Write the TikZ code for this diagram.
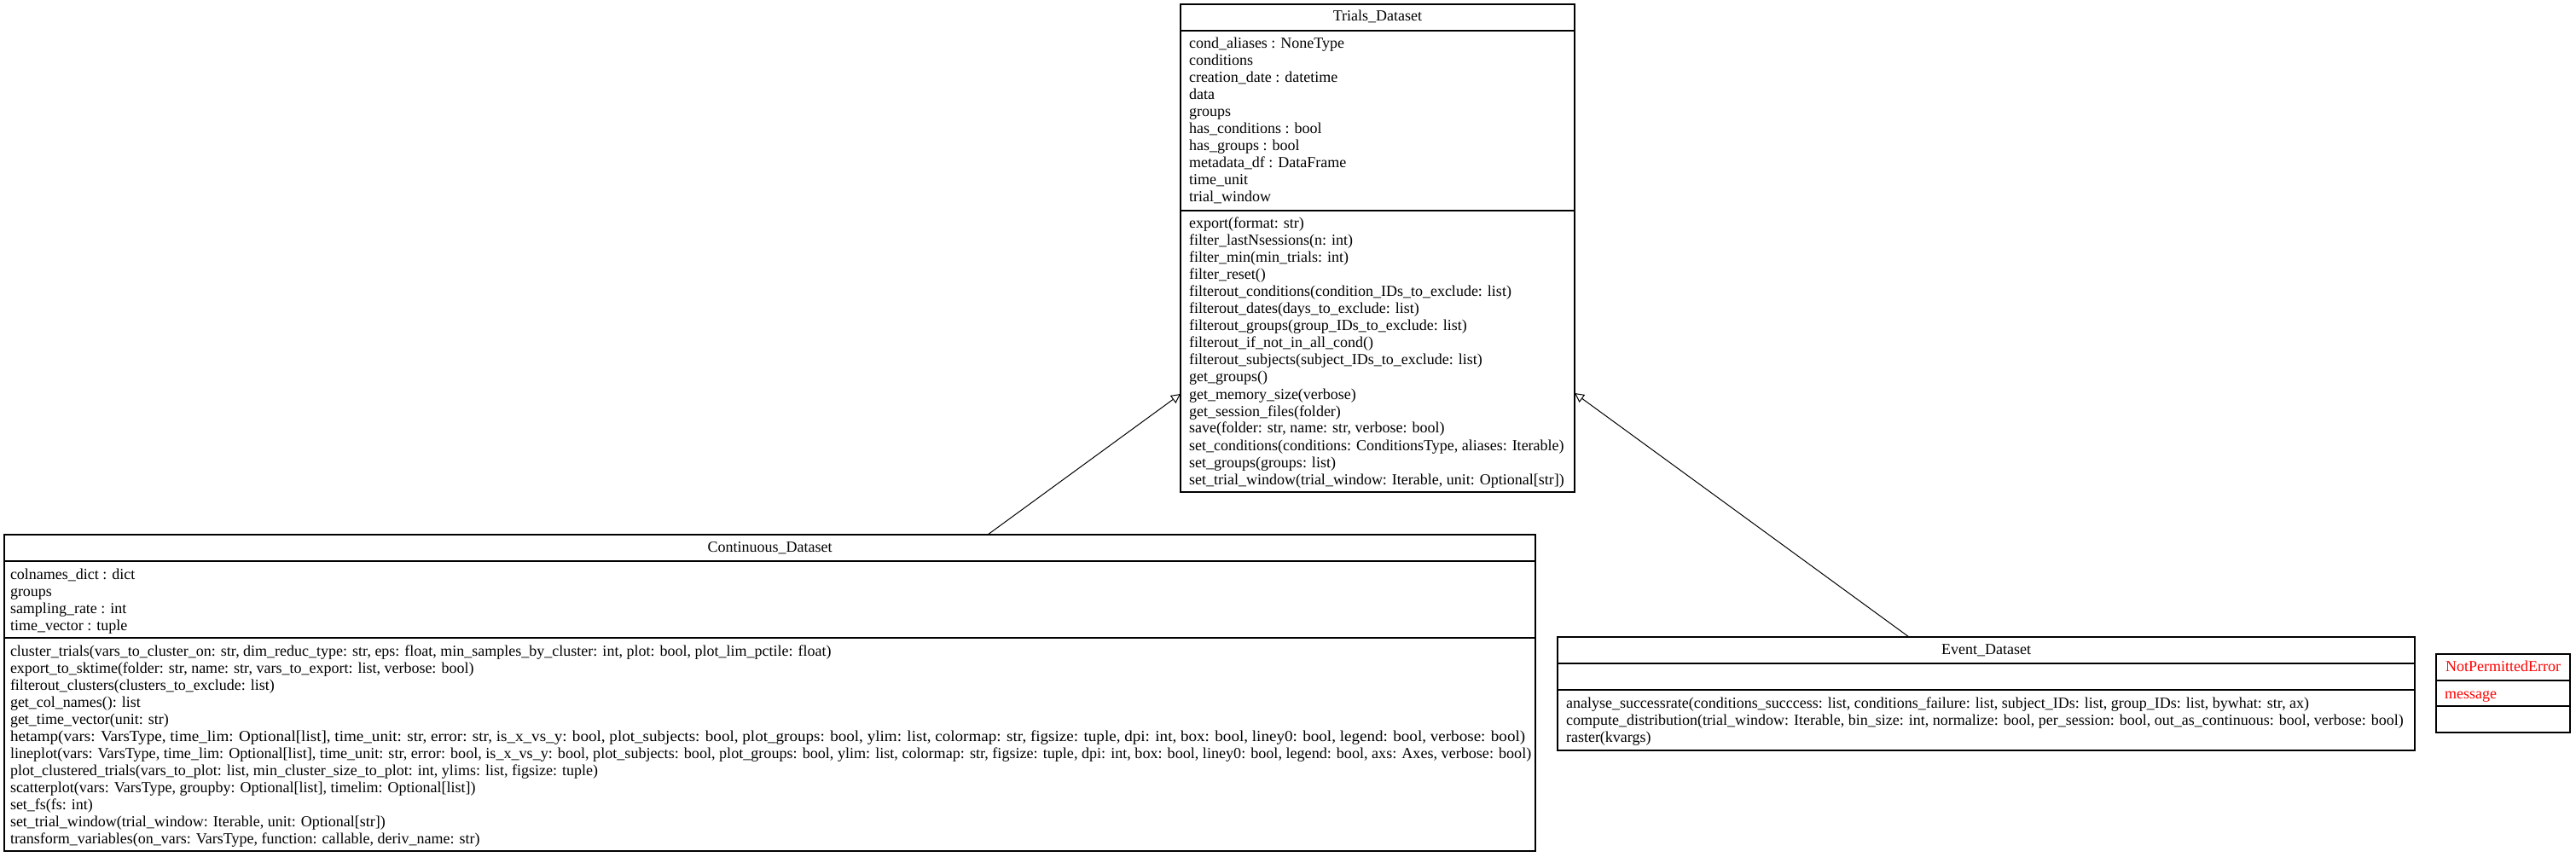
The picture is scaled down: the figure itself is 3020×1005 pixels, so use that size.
\documentclass[tikz,border=0pt]{standalone}
\usepackage{graphicx}
\usepackage{fontspec}
\setmainfont{Liberation Serif}
\usetikzlibrary{arrows.meta}
\begin{document}
\begin{tikzpicture}[x=0.5pt,y=-0.5pt,
  box/.style={draw, line width=0.6pt, inner sep=0pt, outer sep=0pt, anchor=north west},
  txt/.style={inner sep=0pt, outer sep=0pt, anchor=base west, font=\fontsize{9pt}{10pt}\selectfont},
  ttl/.style={inner sep=0pt, outer sep=0pt, anchor=base, font=\fontsize{9pt}{10pt}\selectfont},
  sepline/.style={line width=0.6pt},
  inh/.style={line width=0.5pt, -{Triangle[open, length=5.5pt, width=5.5pt, fill=white]}},
  err/.style={text=red}
]
\useasboundingbox (0,0) rectangle (3020,1005);

% ---------------- Trials_Dataset ----------------
\node[box, minimum width=231pt, minimum height=286pt] (trials) at (1384,5) {};
\draw[sepline] (trials.west |- 0,36) -- (trials.east |- 0,36);
\draw[sepline] (trials.west |- 0,247) -- (trials.east |- 0,247);
\node[ttl] (trialsT) at (1615,25) {Trials\_Dataset};
\foreach \t [count=\i from 0] in {
  {cond\_aliases : NoneType},
  {conditions},
  {creation\_date : datetime},
  {data},
  {groups},
  {has\_conditions : bool},
  {has\_groups : bool},
  {metadata\_df : DataFrame},
  {time\_unit},
  {trial\_window}}
  \node[txt] (trA\i) at (1394,{57+20*\i}) {\t};
\foreach \t [count=\i from 0] in {
  {export(format: str)},
  {filter\_lastNsessions(n: int)},
  {filter\_min(min\_trials: int)},
  {filter\_reset()},
  {filterout\_conditions(condition\_IDs\_to\_exclude: list)},
  {filterout\_dates(days\_to\_exclude: list)},
  {filterout\_groups(group\_IDs\_to\_exclude: list)},
  {filterout\_if\_not\_in\_all\_cond()},
  {filterout\_subjects(subject\_IDs\_to\_exclude: list)},
  {get\_groups()},
  {get\_memory\_size(verbose)},
  {get\_session\_files(folder)},
  {save(folder: str, name: str, verbose: bool)},
  {set\_conditions(conditions: ConditionsType, aliases: Iterable)},
  {set\_groups(groups: list)},
  {set\_trial\_window(trial\_window: Iterable, unit: Optional[str])}}
  \node[txt] (trM\i) at (1394,{268+20*\i}) {\t};

% ---------------- Continuous_Dataset ----------------
\node[box, minimum width=897.5pt, minimum height=185.5pt] (cont) at (5,627) {};
\draw[sepline] (cont.west |- 0,658) -- (cont.east |- 0,658);
\draw[sepline] (cont.west |- 0,748) -- (cont.east |- 0,748);
\node[ttl] (contT) at (902.5,647) {Continuous\_Dataset};
\foreach \t [count=\i from 0] in {
  {colnames\_dict : dict},
  {groups},
  {sampling\_rate : int},
  {time\_vector : tuple}}
  \node[txt] (coA\i) at (12,{679+20*\i}) {\t};
\foreach \t [count=\i from 0] in {
  {cluster\_trials(vars\_to\_cluster\_on: str, dim\_reduc\_type: str, eps: float, min\_samples\_by\_cluster: int, plot: bool, plot\_lim\_pctile: float)},
  {export\_to\_sktime(folder: str, name: str, vars\_to\_export: list, verbose: bool)},
  {filterout\_clusters(clusters\_to\_exclude: list)},
  {get\_col\_names(): list},
  {get\_time\_vector(unit: str)}}
  \node[txt] (coM\i) at (12,{769+20*\i}) {\t};
\node[txt] (coM5) at (12,869) {\resizebox{888pt}{\height}{hetamp(vars: VarsType, time\_lim: Optional[list], time\_unit: str, error: str, is\_x\_vs\_y: bool, plot\_subjects: bool, plot\_groups: bool, ylim: list, colormap: str, figsize: tuple, dpi: int, box: bool, liney0: bool, legend: bool, verbose: bool)}};
\node[txt] (coM6) at (12,889) {\resizebox{891.5pt}{\height}{lineplot(vars: VarsType, time\_lim: Optional[list], time\_unit: str, error: bool, is\_x\_vs\_y: bool, plot\_subjects: bool, plot\_groups: bool, ylim: list, colormap: str, figsize: tuple, dpi: int, box: bool, liney0: bool, legend: bool, axs: Axes, verbose: bool)}};
\foreach \t [count=\i from 7] in {
  {plot\_clustered\_trials(vars\_to\_plot: list, min\_cluster\_size\_to\_plot: int, ylims: list, figsize: tuple)},
  {scatterplot(vars: VarsType, groupby: Optional[list], timelim: Optional[list])},
  {set\_fs(fs: int)},
  {set\_trial\_window(trial\_window: Iterable, unit: Optional[str])},
  {transform\_variables(on\_vars: VarsType, function: callable, deriv\_name: str)}}
  \node[txt] (coM\i) at (12,{769+20*\i}) {\t};

% ---------------- Event_Dataset ----------------
\node[box, minimum width=502.5pt, minimum height=66.5pt] (evt) at (1826,747) {};
\draw[sepline] (evt.west |- 0,778) -- (evt.east |- 0,778);
\draw[sepline] (evt.west |- 0,809) -- (evt.east |- 0,809);
\node[ttl] (evtT) at (2328.5,767) {Event\_Dataset};
\foreach \t [count=\i from 0] in {
  {analyse\_successrate(conditions\_succcess: list, conditions\_failure: list, subject\_IDs: list, group\_IDs: list, bywhat: str, ax)},
  {compute\_distribution(trial\_window: Iterable, bin\_size: int, normalize: bool, per\_session: bool, out\_as\_continuous: bool, verbose: bool)},
  {raster(kvargs)}}
  \node[txt] (evM\i) at (1836,{830+20*\i}) {\t};

% ---------------- NotPermittedError ----------------
\node[box, minimum width=78.5pt, minimum height=46pt] (npe) at (2856,767) {};
\draw[sepline] (npe.west |- 0,798) -- (npe.east |- 0,798);
\draw[sepline] (npe.west |- 0,828) -- (npe.east |- 0,828);
\node[ttl, err] (npeT) at (2934.5,787) {NotPermittedError};
\node[txt, err] (npeA0) at (2866,819) {message};

% ---------------- inheritance ----------------
\draw[inh] ([xshift=576.5pt]cont.north west) -- ([yshift=-228.5pt]trials.north west);
\draw[inh] ([xshift=206pt]evt.north west) -- ([yshift=-228pt]trials.north east);
\end{tikzpicture}
\end{document}
